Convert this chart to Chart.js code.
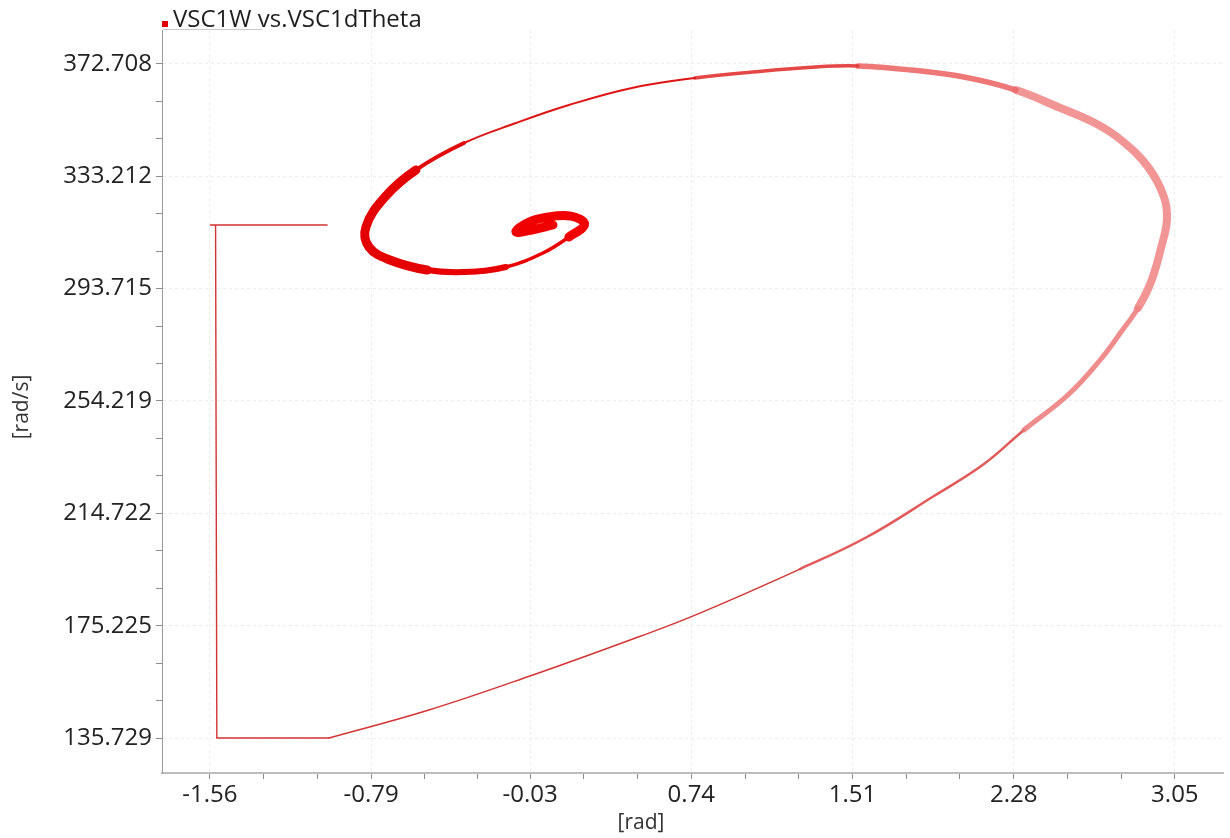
<!DOCTYPE html>
<html>
<head>
<meta charset="utf-8">
<script src="https://cdn.jsdelivr.net/npm/chart.js@4.4.1/dist/chart.umd.min.js"></script>
<style>
  html, body { margin: 0; padding: 0; background: #fff; }
  #wrap { width: 1230px; height: 838px; }
</style>
</head>
<body>
<div id="wrap"><canvas id="phase" width="1230" height="838"></canvas></div>
<script>
// VSC1dTheta [rad] (x) and VSC1W [rad/s] (y) in trajectory order
const thetaRad = [
  -0.998, -1.560, -1.533, -1.527, -0.991,
  -0.514, -0.017, 0.499, 0.781, 1.259, 1.579, 1.899, 2.138, 2.329, 2.539,
  2.697, 2.793, 2.874, 2.936, 2.984, 3.012, 2.998, 2.922, 2.793, 2.668,
  2.492, 2.291, 2.042, 1.789, 1.536, 1.335, 1.034, 0.757, 0.456, 0.155,
  -0.098, -0.346, -0.576, -0.724, -0.815, -0.800, -0.700, -0.523, -0.346, -0.146,
  0.031, 0.155, 0.230, 0.165, 0.055, -0.045, -0.098, -0.022, 0.079
];
const omegaRadS = [
  316.08, 316.08, 316.08, 135.73, 135.73,
  145.57, 157.88, 171.59, 179.67, 195.14, 206.39, 220.80, 232.05, 244.01, 256.31,
  268.97, 278.46, 286.90, 296.04, 307.99, 317.80, 325.92, 336.46, 345.95, 351.93,
  357.55, 363.53, 368.10, 370.56, 371.97, 371.62, 369.86, 367.75, 364.24, 358.26,
  351.93, 344.90, 335.41, 325.92, 315.37, 308.34, 303.77, 300.26, 299.55, 301.31,
  306.23, 311.86, 316.40, 319.20, 318.89, 316.78, 313.62, 314.32, 316.08
];
const xTickLabels = ['-1.56', '-0.79', '-0.03', '0.74', '1.51', '2.28', '3.05'];
const yTickLabels = ['135.729', '175.225', '214.722', '254.219', '293.715', '333.212', '372.708'];

const seriesTitle = 'VSC1W vs.VSC1dTheta';
const startCount = 5; // initial steps before the orbit begins

const pts = thetaRad.map((x, i) => ({ x: x, y: omegaRadS[i] }));

// majors from labels plus two minor ticks in each gap
function buildTicks(labels) {
  const vals = labels.map(Number);
  const out = [];
  vals.forEach((v, i) => {
    out.push({ value: v, label: labels[i], minor: false });
    if (i < vals.length - 1) {
      const step = (vals[i + 1] - v) / 3;
      out.push({ value: v + step, minor: true });
      out.push({ value: v + 2 * step, minor: true });
    }
  });
  const step = (vals[1] - vals[0]) / 3;
  out.unshift({ value: vals[0] - step, minor: true });
  out.push({ value: vals[vals.length - 1] + step, minor: true });
  return out;
}

// oscillation band: thin at the start, pink hatched on the right, solid red inside
function orbitStyle(i) {
  if (i < 9) return [1.4, 'rgba(208,40,40,0.95)'];
  if (i < 13) return [2.5, 'rgba(220,60,60,0.85)'];
  if (i < 17) return [5, 'rgba(236,120,120,0.85)'];
  if (i < 26) return [8, 'rgba(240,130,130,0.85)'];
  if (i < 29) return [5.5, 'rgba(236,105,105,0.9)'];
  if (i < 32) return [3.5, 'rgba(228,60,60,0.95)'];
  if (i < 36) return [2, 'rgba(222,20,20,1)'];
  if (i < 37) return [4, 'rgba(226,10,10,1)'];
  if (i < 42) return [9, 'rgba(228,0,0,1)'];
  if (i < 44) return [6, 'rgba(232,0,0,1)'];
  if (i < 46) return [3.5, 'rgba(235,0,0,1)'];
  return [9, 'rgba(240,0,0,1)'];
}

const textPlugin = {
  id: 'phaseText',
  afterDraw(chart) {
    const c = chart.ctx;
    c.save();
    c.fillStyle = '#e00000';
    c.fillRect(162, 21, 6, 6);
    c.strokeStyle = '#c8c8c8';
    c.lineWidth = 1;
    c.beginPath();
    c.moveTo(163, 29.5);
    c.lineTo(262, 29.5);
    c.stroke();
    c.fillStyle = '#1e1e1e';
    c.font = '24px "Open Sans"';
    c.textBaseline = 'alphabetic';
    c.textAlign = 'left';
    c.fillText(seriesTitle, 173, 27);

    c.fillStyle = '#333';
    c.font = '21px "Open Sans"';
    c.textAlign = 'center';
    c.textBaseline = 'middle';
    c.fillText('[rad]', 641, 823);
    c.translate(22, 407);
    c.rotate(-Math.PI / 2);
    c.fillText('[rad/s]', 0, 0);
    c.restore();
  }
};

const gridColor = ctx => (ctx.tick && ctx.tick.minor) ? 'rgba(0,0,0,0)' : '#ececec';

new Chart(document.getElementById('phase'), {
  type: 'scatter',
  data: {
    datasets: [
      {
        label: 'start',
        data: pts.slice(0, startCount),
        showLine: true,
        borderColor: 'rgba(208,40,40,0.95)',
        borderWidth: 1.4,
        pointRadius: 0,
        tension: 0
      },
      {
        label: seriesTitle,
        data: pts.slice(startCount - 1),
        showLine: true,
        pointRadius: 0,
        tension: 0.4,
        borderColor: 'rgba(220,30,30,1)',
        borderCapStyle: 'round',
        borderJoinStyle: 'round',
        segment: {
          borderWidth: ctx => orbitStyle(ctx.p0DataIndex + startCount - 1)[0],
          borderColor: ctx => orbitStyle(ctx.p0DataIndex + startCount - 1)[1]
        }
      }
    ]
  },
  options: {
    responsive: false,
    devicePixelRatio: 1,
    animation: false,
    layout: { padding: { top: 30, right: 7, left: 0, bottom: 0 } },
    plugins: { legend: { display: false }, tooltip: { enabled: false } },
    scales: {
      x: {
        type: 'linear',
        min: -1.789,
        max: 3.28,
        afterFit: s => { s.height = 65; },
        afterBuildTicks: s => {
          s.ticks = buildTicks(xTickLabels).filter(t => t.value >= s.min && t.value <= s.max);
        },
        border: { display: true, color: '#bdbdbd', width: 2, dash: [3, 3] },
        grid: { color: gridColor, lineWidth: 1, tickLength: 6, tickColor: '#8c8c8c', tickWidth: 1 },
        ticks: {
          autoSkip: false,
          maxRotation: 0,
          padding: 2,
          color: '#222',
          font: { family: '"Open Sans"', size: 24 },
          callback: (v, i, ticks) => ticks[i].minor ? '' : ticks[i].label
        }
      },
      y: {
        type: 'linear',
        min: 123.43,
        max: 384.63,
        afterFit: s => { s.width = 162; },
        afterBuildTicks: s => {
          s.ticks = buildTicks(yTickLabels).filter(t => t.value >= s.min && t.value <= s.max);
        },
        border: { display: true, color: '#9a9a9a', width: 1, dash: [3, 3] },
        grid: { color: gridColor, lineWidth: 1, tickLength: 6, tickColor: '#8c8c8c', tickWidth: 1 },
        ticks: {
          autoSkip: false,
          padding: 4,
          color: '#222',
          font: { family: '"Open Sans"', size: 24 },
          callback: (v, i, ticks) => ticks[i].minor ? '' : ticks[i].label
        }
      }
    }
  },
  plugins: [textPlugin]
});
</script>
</body>
</html>
